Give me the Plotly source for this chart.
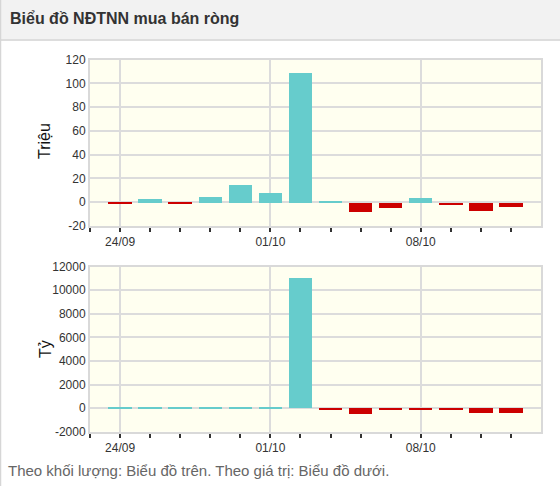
import plotly.graph_objects as go

# ---- data ----
dates = ["24/09", "25/09", "26/09", "27/09", "28/09", "01/10", "02/10",
         "03/10", "04/10", "05/10", "08/10", "09/10", "10/10", "11/10"]
volume_mil = [-1.5, 3, -1.5, 5, 15, 8, 109, 1.5, -8, -5, 4, -2, -7, -3.5]
value_bil = [150, 150, 150, 150, 150, 150, 11100, -150, -500, -150, -150, -150, -380, -380]
label_dates = ["24/09", "01/10", "08/10"]
vol_ticks = [-20, 0, 20, 40, 60, 80, 100, 120]
val_ticks = [-2000, 0, 2000, 4000, 6000, 8000, 10000, 12000]

POS = "#66CCCC"
NEG = "#CC0000"
W, H = 560, 486
FONT = "Arial, Liberation Sans, sans-serif"

xs = list(range(len(dates)))
label_idx = [dates.index(d) for d in label_dates]

fig = go.Figure()
fig.add_trace(go.Bar(x=xs, y=volume_mil, width=0.78,
                     marker=dict(color=[POS if v >= 0 else NEG for v in volume_mil], line=dict(width=0)),
                     xaxis="x", yaxis="y", hoverinfo="y"))
fig.add_trace(go.Bar(x=xs, y=value_bil, width=0.78,
                     marker=dict(color=[POS if v >= 0 else NEG for v in value_bil], line=dict(width=0)),
                     xaxis="x2", yaxis="y2", hoverinfo="y"))

def px_y(p):
    return 1 - p / H

xdom = [90 / W, 541 / W]
grid = "#DCDCDC"
xcommon = dict(range=[-1, len(dates)], tickvals=label_idx, ticktext=label_dates,
               showgrid=True, gridcolor=grid, gridwidth=1.5, zeroline=False,
               showline=True, mirror=True, linecolor="#D9D9D9", linewidth=2,
               ticks="outside", ticklen=4, tickwidth=1.5, tickcolor="#333",
               minor=dict(tickvals=list(range(-1, len(dates))), ticks="outside", ticklen=4,
                          tickwidth=1.5, tickcolor="#333", showgrid=False),
               tickfont=dict(family=FONT, size=12, color="#333"), domain=xdom,
               fixedrange=True, automargin=False)
ycommon = dict(showgrid=True, gridcolor=grid, gridwidth=1.5, zeroline=False,
               showline=True, mirror=True, linecolor="#D9D9D9", linewidth=2,
               ticks="", tickfont=dict(family=FONT, size=12, color="#333"),
               fixedrange=True, automargin=False)

fig.update_layout(
    width=W, height=H, autosize=False,
    margin=dict(l=0, r=0, t=0, b=0, pad=0, autoexpand=False),
    paper_bgcolor="white", plot_bgcolor="#FFFFF0", showlegend=False, bargap=0,
    xaxis=dict(**xcommon, anchor="y"),
    yaxis=dict(**ycommon, range=[-20, 120], tickvals=vol_ticks,
               ticktext=[str(v) for v in vol_ticks],
               domain=[px_y(226), px_y(59.7)], anchor="x"),
    xaxis2=dict(**xcommon, anchor="y2"),
    yaxis2=dict(**ycommon, range=[-2000, 12000], tickvals=val_ticks,
                ticktext=[str(v) for v in val_ticks],
                domain=[px_y(431.7), px_y(266.7)], anchor="x2"),
    font=dict(family=FONT),
    shapes=[
        dict(type="rect", xref="paper", yref="paper", x0=0, x1=1, y0=px_y(40), y1=1,
             fillcolor="#F2F2F2", line=dict(width=0), layer="below"),
        dict(type="line", xref="paper", yref="paper", x0=0, x1=1, y0=px_y(40), y1=px_y(40),
             line=dict(color="#DDDDDD", width=2)),
        dict(type="line", xref="paper", yref="paper", x0=0.5 / W, x1=0.5 / W, y0=0, y1=1,
             line=dict(color="#D6D6D6", width=1.5)),
    ],
    annotations=[
        dict(text="<b>Biểu đồ NĐTNN mua bán ròng</b>", xref="paper", yref="paper",
             x=8 / W, y=px_y(19), xanchor="left", yanchor="middle", showarrow=False,
             font=dict(family=FONT, size=16, color="#333")),
        dict(text="Triệu", xref="paper", yref="paper", x=45 / W, y=px_y(141),
             xanchor="center", yanchor="middle", textangle=-90, showarrow=False,
             font=dict(family=FONT, size=16, color="#111")),
        dict(text="Tỷ", xref="paper", yref="paper", x=45 / W, y=px_y(349),
             xanchor="center", yanchor="middle", textangle=-90, showarrow=False,
             font=dict(family=FONT, size=16, color="#111")),
        dict(text="Theo khối lượng: Biểu đồ trên. Theo giá trị: Biểu đồ dưới.",
             xref="paper", yref="paper", x=6 / W, y=px_y(470), xanchor="left",
             yanchor="middle", showarrow=False, font=dict(family=FONT, size=15, color="#666")),
    ],
)

fig.write_html("out.html", config={"displayModeBar": False, "responsive": False},
               post_script="document.body.style.margin='0';document.body.style.overflow='hidden';")
